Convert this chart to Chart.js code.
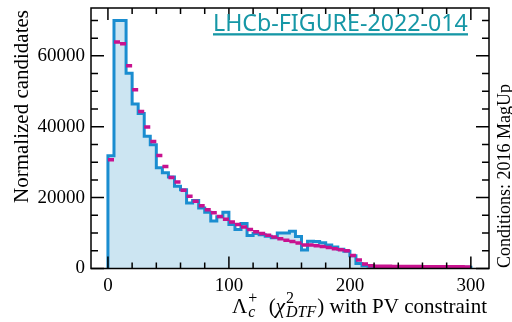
<!DOCTYPE html>
<html>
<head>
<meta charset="utf-8">
<script src="https://cdn.jsdelivr.net/npm/chart.js@4.4.1/dist/chart.umd.min.js"></script>
<style>
  html, body { margin: 0; padding: 0; background: #fff; }
  canvas { display: block; }
</style>
</head>
<body>
<canvas id="chart" width="512" height="322"></canvas>
<script>
// histogram bins: 60 bins of width 5 from 0 to 300
var binStart = 0;
var binWidth = 5;

// data (blue histogram, filled)
var dataCounts = [31800, 70000, 70000, 55100, 46400, 43700, 37300, 34900, 28400, 27000,
                  25800, 23200, 22200, 18500, 19200, 17100, 15900, 13400, 14600, 15900,
                  12400, 11000, 12700, 9300, 9900, 9500, 9100, 8700, 10000, 10000,
                  10500, 9000, 5200, 7700, 7600, 7300, 6600, 6100, 5400, 4900,
                  3600, 1400, 800, 600, 500, 480, 460, 450, 440, 430,
                  420, 410, 400, 400, 390, 380, 380, 370, 360, 350];

// simulation (magenta markers)
var simCounts = [30700, 63900, 63400, 57200, 50400, 44300, 39900, 35800, 31900, 28800,
                 25700, 24400, 22100, 20400, 19000, 17700, 16600, 15700, 14700, 13900,
                 13100, 12400, 11700, 11000, 10400, 9900, 9400, 8900, 8400, 8000,
                 7600, 7200, 6600, 6600, 6400, 6200, 5900, 5600, 5300, 5000,
                 3700, 2400, 1300, 800, 650, 620, 600, 580, 560, 550,
                 540, 530, 520, 510, 500, 490, 480, 470, 460, 450];

var xTickValues = [0, 100, 200, 300];
var yTickValues = [0, 20000, 40000, 60000];
var xMinorStep = 20;
var yMinorStep = 5000;

var blueLine = '#1a8dd0';
var blueFill = '#cce5f2';
var magenta = '#c8128f';
var teal = '#1697a6';

function edge(k) { return binStart + k * binWidth; }

// stepped outline of the blue histogram (value of point i covers edge i-1 .. edge i)
var histPoints = [{x: edge(0), y: 0}, {x: edge(0), y: dataCounts[0]}];
for (var k = 0; k < dataCounts.length; k++) {
    histPoints.push({x: edge(k + 1), y: k + 1 < dataCounts.length ? dataCounts[k + 1] : 0});
}

// one horizontal dash per bin for the magenta histogram
var simPoints = [];
for (var j = 0; j < simCounts.length; j++) {
    simPoints.push({x: edge(j), y: simCounts[j]});
    simPoints.push({x: edge(j + 1), y: simCounts[j]});
    simPoints.push({x: edge(j + 1), y: null});
}

var serif = '"Liberation Serif", "DejaVu Serif", serif';

var framePlugin = {
    id: 'frame',
    afterDatasetsDraw: function(chart) {
        var ctx = chart.ctx, a = chart.chartArea;
        var xs = chart.scales.x, ys = chart.scales.y;
        ctx.save();
        ctx.strokeStyle = '#000';
        ctx.lineWidth = 1.5;
        ctx.strokeRect(a.left, a.top, a.right - a.left, a.bottom - a.top);
        ctx.beginPath();
        for (var v = 0; v <= ys.max; v += yMinorStep) {
            var py = ys.getPixelForValue(v);
            var len = (v % 20000 === 0) ? 13 : 7;
            ctx.moveTo(a.left, py); ctx.lineTo(a.left + len, py);
            ctx.moveTo(a.right, py); ctx.lineTo(a.right - len, py);
        }
        for (var u = 0; u <= xs.max; u += xMinorStep) {
            if (u < xs.min) continue;
            var px = xs.getPixelForValue(u);
            var l2 = (u % 100 === 0) ? 12 : 6;
            ctx.moveTo(px, a.bottom); ctx.lineTo(px, a.bottom - l2);
            ctx.moveTo(px, a.top); ctx.lineTo(px, a.top + l2);
        }
        ctx.stroke();
        ctx.restore();
    },
    afterDraw: function(chart) {
        var ctx = chart.ctx;
        ctx.save();
        ctx.fillStyle = '#000';

        // y title
        ctx.save();
        ctx.translate(22, 10);
        ctx.rotate(-Math.PI / 2);
        ctx.font = '21px ' + serif;
        ctx.textAlign = 'right';
        ctx.textBaseline = 'middle';
        ctx.fillText('Normalized candidates', 0, 0);
        ctx.restore();

        // right side label
        ctx.save();
        ctx.translate(505, 268);
        ctx.rotate(-Math.PI / 2);
        ctx.font = '18px ' + serif;
        ctx.textAlign = 'left';
        ctx.textBaseline = 'middle';
        ctx.fillText('Conditions: 2016 MagUp', 0, 0);
        ctx.restore();

        // x title with sub/superscripts
        var big = '21px ' + serif, bigIt = 'italic 21px ' + serif;
        var sm = '16px ' + serif, smIt = 'italic 16px ' + serif;
        var parts = [
            {t: '\u039b', f: big},
            {sup: '+', sub: 'c', supF: sm, subF: smIt},
            {t: '  (', f: big},
            {t: '\u03c7', f: bigIt},
            {sup: '2', sub: 'DTF', supF: sm, subF: smIt},
            {t: ') with PV constraint', f: big}
        ];
        function w(p) {
            if (p.t !== undefined) { ctx.font = p.f; return ctx.measureText(p.t).width; }
            ctx.font = p.supF; var a1 = ctx.measureText(p.sup).width;
            ctx.font = p.subF; var b1 = ctx.measureText(p.sub).width;
            return Math.max(a1, b1) + 2;
        }
        var total = 0;
        parts.forEach(function(p) { total += w(p); });
        var x = 487 - total, base = 313;
        ctx.textAlign = 'left';
        ctx.textBaseline = 'alphabetic';
        parts.forEach(function(p) {
            var pw = w(p);
            if (p.t !== undefined) {
                ctx.font = p.f; ctx.fillText(p.t, x, base);
            } else {
                ctx.font = p.supF; ctx.fillText(p.sup, x + 1, base - 10);
                ctx.font = p.subF; ctx.fillText(p.sub, x + 1, base + 4);
            }
            x += pw;
        });

        // figure label
        var label = 'LHCb-FIGURE-2022-014';
        var sans = '"Noto Sans", "Open Sans", sans-serif';
        ctx.font = '22px ' + sans;
        var size = 22 * 255 / ctx.measureText(label).width;
        ctx.font = size.toFixed(2) + 'px ' + sans;
        ctx.fillStyle = teal;
        ctx.fillText(label, 213, 31);
        ctx.fillRect(213, 33.2, 255, 2.3);
        ctx.restore();
    }
};

new Chart(document.getElementById('chart'), {
    type: 'line',
    data: {
        datasets: [
            {
                label: 'Simulation',
                data: simPoints,
                borderColor: magenta,
                borderWidth: 3.5,
                pointRadius: 0,
                spanGaps: false,
                fill: false,
                order: 1
            },
            {
                label: 'Data',
                data: histPoints,
                stepped: 'before',
                borderColor: blueLine,
                backgroundColor: blueFill,
                borderWidth: 3,
                pointRadius: 0,
                fill: 'origin',
                order: 2
            }
        ]
    },
    options: {
        responsive: false,
        animation: false,
        devicePixelRatio: 1,
        layout: { padding: { top: 8, right: 23, left: 0, bottom: 0 } },
        plugins: {
            legend: { display: false },
            tooltip: { enabled: false }
        },
        scales: {
            x: {
                type: 'linear',
                min: -14,
                max: 315,
                afterBuildTicks: function(s) { s.ticks = xTickValues.map(function(v) { return {value: v}; }); },
                afterFit: function(s) { s.height = 53.5; s.paddingLeft = 0; s.paddingRight = 0; },
                grid: { display: false, drawTicks: false },
                border: { display: false },
                ticks: {
                    padding: 6,
                    color: '#000',
                    font: { family: serif, size: 19 },
                    maxRotation: 0,
                    callback: function(v) { return String(v); }
                }
            },
            y: {
                min: 0,
                max: 73500,
                afterBuildTicks: function(s) { s.ticks = yTickValues.map(function(v) { return {value: v}; }); },
                afterFit: function(s) { s.width = 91; s.paddingTop = 0; s.paddingBottom = 0; },
                grid: { display: false, drawTicks: false },
                border: { display: false },
                ticks: {
                    padding: 6,
                    color: '#000',
                    font: { family: serif, size: 19 },
                    callback: function(v) { return String(v); }
                }
            }
        }
    },
    plugins: [framePlugin]
});
</script>
</body>
</html>
